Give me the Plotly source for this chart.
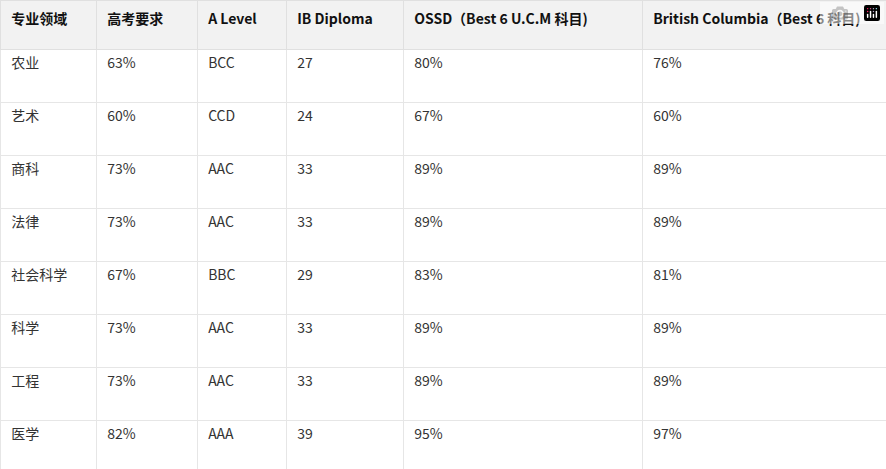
import plotly.graph_objects as go

headers = ["专业领域", "高考要求", "A Level", "IB Diploma", "OSSD（Best 6 U.C.M 科目)", "British Columbia（Best 6 科目)"]
fields = ["农业", "艺术", "商科", "法律", "社会科学", "科学", "工程", "医学"]
gaokao = ["63%", "60%", "73%", "73%", "67%", "73%", "73%", "82%"]
alevel = ["BCC", "CCD", "AAC", "AAC", "BBC", "AAC", "AAC", "AAA"]
ib = ["27", "24", "33", "33", "29", "33", "33", "39"]
ossd = ["80%", "67%", "89%", "89%", "83%", "89%", "89%", "95%"]
bc = ["76%", "60%", "89%", "89%", "81%", "89%", "89%", "97%"]

widths = [96, 101, 89, 117, 239, 244]
font_family = "Noto Sans CJK SC"
pad = "\u00a0"

def col(vals):
    return [pad + v for v in vals]

fig = go.Figure(go.Table(
    columnwidth=widths,
    header=dict(
        values=[pad + "<b>" + h + "</b>" for h in headers],
        fill_color="#f2f2f2",
        line_color="#e0e0e0",
        align="left",
        height=49,
        font=dict(family=font_family, size=14, color="#111111"),
    ),
    cells=dict(
        values=[col(fields), col(gaokao), col(alevel), col(ib), col(ossd), col(bc)],
        fill_color="#ffffff",
        line_color="#e6e6e6",
        align="left",
        height=53,
        font=dict(family=font_family, size=14, color="#333333"),
    ),
    domain=dict(x=[0, 1], y=[0, 1]),
))
fig.update_layout(width=886, height=469, margin=dict(l=0, r=0, t=0, b=0),
                  paper_bgcolor="white")
fig.write_html("out.html",
               post_script="document.body.style.margin='0';document.body.style.overflow='hidden';")
